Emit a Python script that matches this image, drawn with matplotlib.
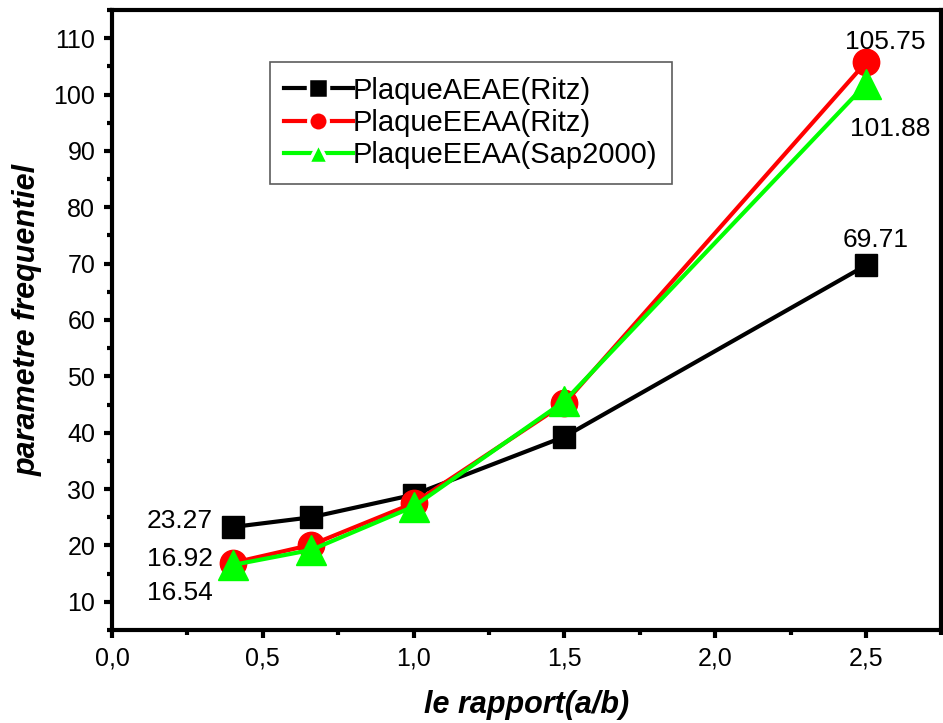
import matplotlib.pyplot as plt
from matplotlib.lines import Line2D
from matplotlib.ticker import MultipleLocator, FuncFormatter

plt.rcParams['font.family'] = ['Liberation Sans', 'DejaVu Sans']

# data
ratio = [0.4, 0.66, 1.0, 1.5, 2.5]
aeae_ritz = [23.27, 25.0, 29.0, 39.3, 69.71]
eeaa_ritz = [16.92, 20.1, 27.5, 45.2, 105.75]
eeaa_sap = [16.54, 19.2, 26.9, 45.6, 101.88]

labels = ['PlaqueAEAE(Ritz)', 'PlaqueEEAA(Ritz)', 'PlaqueEEAA(Sap2000)']
colors = ['black', 'red', '#00ff00']
markers = ['s', 'o', '^']

fig = plt.figure(figsize=(9.43, 7.23), dpi=100)
ax = fig.add_axes([0.1188, 0.1286, 0.8796, 0.8576])

ax.plot(ratio, aeae_ritz, color=colors[0], lw=3, marker=markers[0], ms=16)
ax.plot(ratio, eeaa_ritz, color=colors[1], lw=3, marker=markers[1], ms=19)
ax.plot(ratio, eeaa_sap, color=colors[2], lw=3, marker=markers[2], ms=21)

# value labels at the end points
fs = 19
ax.text(ratio[0] - 0.065, aeae_ritz[0] + 1.1, '23.27', ha='right', va='center', fontsize=fs)
ax.text(ratio[0] - 0.065, eeaa_ritz[0] + 0.7, '16.92', ha='right', va='center', fontsize=fs)
ax.text(ratio[0] - 0.065, eeaa_sap[0] - 4.9, '16.54', ha='right', va='center', fontsize=fs)
ax.text(ratio[4] + 0.065, eeaa_ritz[4] + 3.6, '105.75', ha='center', va='center', fontsize=fs)
ax.text(ratio[4] + 0.08, eeaa_sap[4] - 8.0, '101.88', ha='center', va='center', fontsize=fs)
ax.text(ratio[4] + 0.03, aeae_ritz[4] + 4.5, '69.71', ha='center', va='center', fontsize=fs)

ax.set_xlim(0, 2.75)
ax.set_ylim(5, 115)
ax.xaxis.set_major_locator(MultipleLocator(0.5))
ax.xaxis.set_minor_locator(MultipleLocator(0.25))
ax.yaxis.set_minor_locator(MultipleLocator(5))
ax.xaxis.set_major_formatter(FuncFormatter(lambda v, p: f'{v:.1f}'.replace('.', ',')))
ax.set_yticks(range(10, 111, 10))

ax.tick_params(which='major', direction='out', length=6, width=3, labelsize=18, pad=6)
ax.tick_params(which='minor', direction='out', length=3.5, width=3)
for s in ax.spines.values():
    s.set_linewidth(3)

ax.set_xlabel('le rapport(a/b)', fontsize=22, fontweight='bold', style='italic', labelpad=14)
ax.set_ylabel('parametre frequentiel', fontsize=22, fontweight='bold', style='italic', labelpad=8)

# legend handles: marker with white rim, like the Origin style
handles = [Line2D([], [], color=c, lw=3, marker=m, ms=14, mfc=c, mec='white', mew=2.5)
           for c, m in zip(colors, markers)]
leg = ax.legend(handles, labels, loc='upper left', bbox_to_anchor=(0.19, 0.916), fontsize=21,
                frameon=True, fancybox=False, edgecolor='#333333', handlelength=2.35,
                handletextpad=0.0, borderpad=0.5, labelspacing=0.15, borderaxespad=0)
leg.get_frame().set_linewidth(1.2)

fig.savefig('out.png', dpi=100)
